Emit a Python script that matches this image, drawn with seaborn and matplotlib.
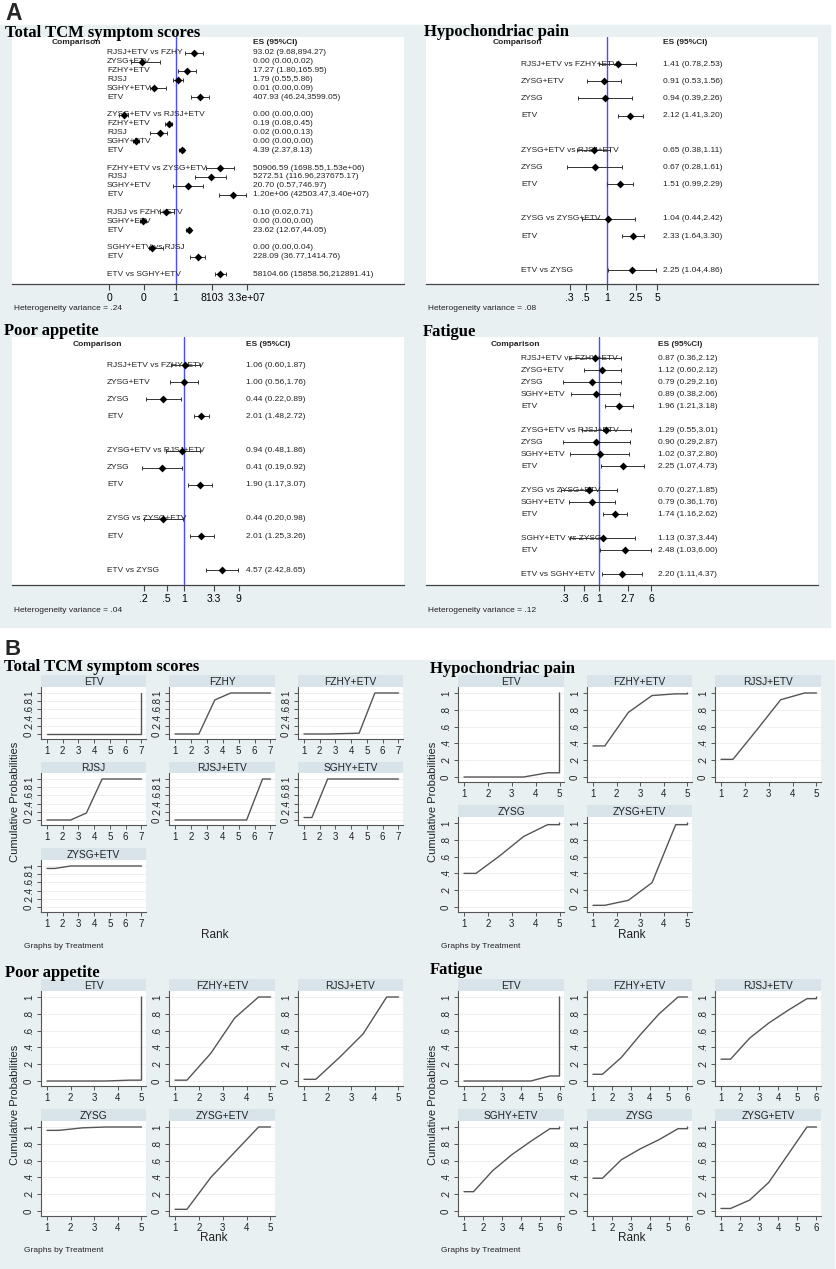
import numpy as np
import pandas as pd
import matplotlib
matplotlib.use('Agg')
import matplotlib.pyplot as plt
import seaborn as sns
from matplotlib.patches import Rectangle
from matplotlib.transforms import blended_transform_factory
from matplotlib.ticker import NullLocator

sns.set_theme(style='white')
plt.rcParams['font.family'] = ['Liberation Sans', 'DejaVu Sans']

# ---------------- data: A, forest plots ----------------
tcm_groups = [6, 5, 4, 3, 2, 1]
tcm_labels = ["RJSJ+ETV vs FZHY", "ZYSG+ETV", "FZHY+ETV", "RJSJ", "SGHY+ETV", "ETV",
              "ZYSG+ETV vs RJSJ+ETV", "FZHY+ETV", "RJSJ", "SGHY+ETV", "ETV",
              "FZHY+ETV vs ZYSG+ETV", "RJSJ", "SGHY+ETV", "ETV",
              "RJSJ vs FZHY+ETV", "SGHY+ETV", "ETV",
              "SGHY+ETV vs RJSJ", "ETV",
              "ETV vs SGHY+ETV"]
tcm_text = ["93.02 (9.68,894.27)", "0.00 (0.00,0.02)", "17.27 (1.80,165.95)", "1.79 (0.55,5.86)",
            "0.01 (0.00,0.09)", "407.93 (46.24,3599.05)",
            "0.00 (0.00,0.00)", "0.19 (0.08,0.45)", "0.02 (0.00,0.13)", "0.00 (0.00,0.00)", "4.39 (2.37,8.13)",
            "50906.59 (1698.55,1.53e+06)", "5272.51 (116.96,237675.17)", "20.70 (0.57,746.97)",
            "1.20e+06 (42503.47,3.40e+07)",
            "0.10 (0.02,0.71)", "0.00 (0.00,0.00)", "23.62 (12.67,44.05)",
            "0.00 (0.00,0.04)", "228.09 (36.77,1414.76)",
            "58104.66 (15858.56,212891.41)"]
tcm_es = [93.02, 2.5e-4, 17.27, 1.79, 5.5e-3, 407.93,
          2.8e-6, 0.19, 0.02, 5.5e-5, 4.39,
          50906.59, 5272.51, 20.70, 1.20e6,
          0.10, 3.3e-4, 23.62,
          3.3e-3, 228.09,
          58104.66]
tcm_lo = [9.68, 1.7e-5, 1.80, 0.55, 1.7e-3, 46.24,
          1.0e-6, 0.08, 2.0e-3, 2.5e-5, 2.37,
          1698.55, 116.96, 0.57, 42503.47,
          0.02, 1.7e-4, 12.67,
          1.4e-3, 36.77,
          15858.56]
tcm_hi = [894.27, 0.02, 165.95, 5.86, 0.09, 3599.05,
          7.5e-6, 0.45, 0.13, 1.2e-4, 8.13,
          1.53e6, 237675.17, 746.97, 3.40e7,
          0.71, 7.5e-4, 44.05,
          0.04, 1414.76,
          212891.41]

hyp_groups = [4, 3, 2, 1]
hyp_labels = ["RJSJ+ETV vs FZHY+ETV", "ZYSG+ETV", "ZYSG", "ETV",
              "ZYSG+ETV vs RJSJ+ETV", "ZYSG", "ETV",
              "ZYSG vs ZYSG+ETV", "ETV",
              "ETV vs ZYSG"]
hyp_text = ["1.41 (0.78,2.53)", "0.91 (0.53,1.56)", "0.94 (0.39,2.26)", "2.12 (1.41,3.20)",
            "0.65 (0.38,1.11)", "0.67 (0.28,1.61)", "1.51 (0.99,2.29)",
            "1.04 (0.44,2.42)", "2.33 (1.64,3.30)",
            "2.25 (1.04,4.86)"]
hyp_es = [1.41, 0.91, 0.94, 2.12, 0.65, 0.67, 1.51, 1.04, 2.33, 2.25]
hyp_lo = [0.78, 0.53, 0.39, 1.41, 0.38, 0.28, 0.99, 0.44, 1.64, 1.04]
hyp_hi = [2.53, 1.56, 2.26, 3.20, 1.11, 1.61, 2.29, 2.42, 3.30, 4.86]

app_groups = [4, 3, 2, 1]
app_labels = ["RJSJ+ETV vs FZHY+ETV", "ZYSG+ETV", "ZYSG", "ETV",
              "ZYSG+ETV vs RJSJ+ETV", "ZYSG", "ETV",
              "ZYSG vs ZYSG+ETV", "ETV",
              "ETV vs ZYSG"]
app_text = ["1.06 (0.60,1.87)", "1.00 (0.56,1.76)", "0.44 (0.22,0.89)", "2.01 (1.48,2.72)",
            "0.94 (0.48,1.86)", "0.41 (0.19,0.92)", "1.90 (1.17,3.07)",
            "0.44 (0.20,0.98)", "2.01 (1.25,3.26)",
            "4.57 (2.42,8.65)"]
app_es = [1.06, 1.00, 0.44, 2.01, 0.94, 0.41, 1.90, 0.44, 2.01, 4.57]
app_lo = [0.60, 0.56, 0.22, 1.48, 0.48, 0.19, 1.17, 0.20, 1.25, 2.42]
app_hi = [1.87, 1.76, 0.89, 2.72, 1.86, 0.92, 3.07, 0.98, 3.26, 8.65]

fat_groups = [5, 4, 3, 2, 1]
fat_labels = ["RJSJ+ETV vs FZHY+ETV", "ZYSG+ETV", "ZYSG", "SGHY+ETV", "ETV",
              "ZYSG+ETV vs RJSJ+ETV", "ZYSG", "SGHY+ETV", "ETV",
              "ZYSG vs ZYSG+ETV", "SGHY+ETV", "ETV",
              "SGHY+ETV vs ZYSG", "ETV",
              "ETV vs SGHY+ETV"]
fat_text = ["0.87 (0.36,2.12)", "1.12 (0.60,2.12)", "0.79 (0.29,2.16)", "0.89 (0.38,2.06)", "1.96 (1.21,3.18)",
            "1.29 (0.55,3.01)", "0.90 (0.29,2.87)", "1.02 (0.37,2.80)", "2.25 (1.07,4.73)",
            "0.70 (0.27,1.85)", "0.79 (0.36,1.76)", "1.74 (1.16,2.62)",
            "1.13 (0.37,3.44)", "2.48 (1.03,6.00)",
            "2.20 (1.11,4.37)"]
fat_es = [0.87, 1.12, 0.79, 0.89, 1.96, 1.29, 0.90, 1.02, 2.25, 0.70, 0.79, 1.74, 1.13, 2.48, 2.20]
fat_lo = [0.36, 0.60, 0.29, 0.38, 1.21, 0.55, 0.29, 0.37, 1.07, 0.27, 0.36, 1.16, 0.37, 1.03, 1.11]
fat_hi = [2.12, 2.12, 2.16, 2.06, 3.18, 3.01, 2.87, 2.80, 4.73, 1.85, 1.76, 2.62, 3.44, 6.00, 4.37]

# ---------------- data: B, cumulative rank probabilities ----------------
tcm_trt = ["ETV", "FZHY", "FZHY+ETV", "RJSJ", "RJSJ+ETV", "SGHY+ETV", "ZYSG+ETV"]
tcm_cum = [[0, 0, 0, 0, 0, 0, 1],
           [0, 0, 0.83, 1, 1, 1, 1],
           [0, 0, 0.01, 0.02, 1, 1, 1],
           [0, 0, 0.17, 1, 1, 1, 1],
           [0, 0, 0, 0, 0, 1, 1],
           [0.06, 1, 1, 1, 1, 1, 1],
           [0.94, 1, 1, 1, 1, 1, 1]]

hyp_trt = ["ETV", "FZHY+ETV", "RJSJ+ETV", "ZYSG", "ZYSG+ETV"]
hyp_cum = [[0, 0, 0, 0.05, 1],
           [0.37, 0.77, 0.97, 0.99, 1],
           [0.21, 0.56, 0.92, 1, 1],
           [0.40, 0.61, 0.84, 0.98, 1],
           [0.02, 0.08, 0.29, 0.98, 1]]

app_trt = ["ETV", "FZHY+ETV", "RJSJ+ETV", "ZYSG", "ZYSG+ETV"]
app_cum = [[0, 0, 0, 0.01, 1],
           [0.01, 0.33, 0.75, 1, 1],
           [0.02, 0.28, 0.56, 1, 1],
           [0.96, 0.99, 1, 1, 1],
           [0.02, 0.40, 0.70, 1, 1]]

fat_trt = ["ETV", "FZHY+ETV", "RJSJ+ETV", "SGHY+ETV", "ZYSG", "ZYSG+ETV"]
fat_cum = [[0, 0, 0, 0, 0.06, 1],
           [0.08, 0.28, 0.55, 0.80, 1, 1],
           [0.26, 0.51, 0.69, 0.84, 0.98, 1],
           [0.23, 0.48, 0.67, 0.83, 0.98, 1],
           [0.39, 0.61, 0.74, 0.85, 0.98, 1],
           [0.03, 0.13, 0.34, 0.67, 1, 1]]

# ---------------- figure ----------------
W, H = 837, 1269
fig = plt.figure(figsize=(W / 100, H / 100), dpi=100)
fig.patch.set_facecolor('white')

BG = '#e9f0f2'
STRIP = '#d8e3ea'
TXT = '#222222'


def ax_px(x0, y0, x1, y1, **kw):
    return fig.add_axes([x0 / W, 1 - y1 / H, (x1 - x0) / W, (y1 - y0) / H], **kw)


def ftext(x, y, s, **kw):
    fig.text(x / W, 1 - y / H, s, **kw)


def title(x, y, s):
    ftext(x, y, s, fontsize=12, fontweight='bold', va='baseline',
          family=['Liberation Serif', 'DejaVu Serif'], color='black')


# background regions (behind the axes)
fig.patches.append(Rectangle((0, 1 - 627 / H), 830 / W, (627 - 25) / H,
                             transform=fig.transFigure, color=BG, zorder=-5))
fig.patches.append(Rectangle((0, 0), 834 / W, (1269 - 660) / H,
                             transform=fig.transFigure, color=BG, zorder=-5))

ftext(5, 20, 'A', fontsize=16.5, fontweight='bold', va='baseline')
ftext(5, 655, 'B', fontsize=16, fontweight='bold', va='baseline')


def forest(box, labels, texts, es, lo, hi, groups, row0, dy, ln_lim, ticks, tick_lab,
           lab_x, es_x, comp_x, head_y, het, het_xy):
    x0, y0, x1, y1 = box
    ax = ax_px(x0, y0, x1, y1)
    ax.set_facecolor('white')
    rows = []
    r = 0
    for g in groups:
        rows += list(range(r, r + g))
        r += g + 1
    df = pd.DataFrame({'row': rows, 'es': es, 'lo': lo, 'hi': hi})
    ax.set_xscale('log')
    ax.axvline(1, color='#4b4bff', lw=1.0, zorder=1)
    ax.errorbar(df['es'], df['row'], xerr=[df['es'] - df['lo'], df['hi'] - df['es']],
                fmt='none', ecolor='#333333', elinewidth=0.7, capsize=1.3, capthick=0.7, zorder=3)
    sns.scatterplot(data=df, x='es', y='row', marker='D', color='black', s=16,
                    linewidth=0, ax=ax, zorder=4, legend=False)
    ax.set_xlim(np.exp(ln_lim[0]), np.exp(ln_lim[1]))
    ax.set_ylim((y1 - row0) / dy, (y0 - row0) / dy)
    for s in ['top', 'left', 'right']:
        ax.spines[s].set_visible(False)
    ax.spines['bottom'].set_color('#444444')
    ax.spines['bottom'].set_linewidth(0.9)
    ax.set_xticks(ticks)
    ax.set_xticklabels(tick_lab)
    ax.xaxis.set_minor_locator(NullLocator())
    ax.tick_params(axis='x', length=4, width=0.8, color='#444444', direction='out',
                   labelsize=7.5, pad=2.5, labelcolor='black', bottom=True)
    ax.set_yticks([])
    ax.set_xlabel('')
    ax.set_ylabel('')
    tr = blended_transform_factory(fig.transFigure, ax.transData)
    for rr, lab, t in zip(rows, labels, texts):
        ax.text(lab_x / W, rr, lab, transform=tr, va='center', ha='left', fontsize=6.0,
                color=TXT, zorder=2)
        ax.text(es_x / W, rr, t, transform=tr, va='center', ha='left', fontsize=6.0,
                color=TXT, zorder=2)
    hr = (head_y - row0) / dy
    ax.text(comp_x / W, hr, 'Comparison', transform=tr, va='center', ha='left',
            fontsize=6.0, fontweight='bold', color=TXT)
    ax.text(es_x / W, hr, 'ES (95%CI)', transform=tr, va='center', ha='left',
            fontsize=6.0, fontweight='bold', color=TXT)
    ftext(het_xy[0], het_xy[1], 'Heterogeneity variance = ' + het, fontsize=6,
          va='center', ha='left', color=TXT)


forest((12, 37, 404, 284), tcm_labels, tcm_text, tcm_es, tcm_lo, tcm_hi, tcm_groups,
       53, 8.85, (-40.2, 56.1), [8.3e-8, 4.1e-4, 1, 8103, 3.9e7],
       ['0', '0', '1', '8103', '3.3e+07'], 107, 253, 52, 43, '.24', (14, 309))
title(5, 37, 'Total TCM symptom scores')

forest((426, 37, 818, 284), hyp_labels, hyp_text, hyp_es, hyp_lo, hyp_hi, hyp_groups,
       64, 17.2, (-5.82, 6.78), [0.3, 0.5, 1, 2.5, 5], ['.3', '.5', '1', '2.5', '5'],
       521, 663, 493, 43, '.08', (428, 309))
title(424, 36, 'Hypochondriac pain')

forest((12, 337, 404, 585), app_labels, app_text, app_es, app_lo, app_hi, app_groups,
       365, 17.1, (-6.88, 8.8), [0.2, 0.5, 1, 3.3, 9], ['.2', '.5', '1', '3.3', '9'],
       107, 246, 73, 344, '.04', (14, 611))
title(4, 335, 'Poor appetite')

forest((426, 337, 818, 585), fat_labels, fat_text, fat_es, fat_lo, fat_hi, fat_groups,
       358, 12.0, (-5.97, 7.55), [0.3, 0.6, 1, 2.7, 6], ['.3', '.6', '1', '2.7', '6'],
       521, 658, 491, 344, '.12', (428, 611))
title(423, 336, 'Fatigue')


# ---------------- B: rankograms ----------------
def rank_panel(trts, cums, cols, rows, ylab_xy, rank_xy, gbt_xy):
    n = len(cums[0])
    for i, (name, cum) in enumerate(zip(trts, cums)):
        cx0, cx1 = cols[i % 3]
        sy0, py0, py1 = rows[i // 3]
        st = ax_px(cx0, sy0, cx1, py0)
        st.set_facecolor(STRIP)
        st.set_xticks([])
        st.set_yticks([])
        for s in st.spines.values():
            s.set_visible(False)
        st.text(0.5, 0.45, name, ha='center', va='center', fontsize=7.3, color=TXT,
                transform=st.transAxes)

        ax = ax_px(cx0, py0, cx1, py1)
        ax.set_facecolor('white')
        xs = [1, 1.5] + [k + 1.5 for k in range(1, n - 1)] + [n, n]
        ys = [cum[0], cum[0]] + list(cum[1:n - 1]) + [cum[n - 2], cum[n - 1]]
        d = pd.DataFrame({'rank': xs, 'p': ys})
        sns.lineplot(data=d, x='rank', y='p', sort=False, estimator=None, color='#555555',
                     lw=1.0, ax=ax)
        sx = (cx1 - cx0 - 10.5) / (n - 1)
        sy = (py1 - py0 - 11)
        ax.set_xlim(1 - 6 / sx, n + 4.5 / sx)
        ax.set_ylim(-5 / sy, 1 + 6 / sy)
        ax.set_xticks(range(1, n + 1))
        ax.set_yticks([0, 0.2, 0.4, 0.6, 0.8, 1])
        ax.set_yticklabels(['0', '.2', '.4', '.6', '.8', '1'], rotation=90, va='center')
        ax.grid(axis='y', color='#eeeeee', lw=0.6)
        ax.grid(axis='x', visible=False)
        for s in ['top', 'right']:
            ax.spines[s].set_visible(False)
        for s in ['left', 'bottom']:
            ax.spines[s].set_color('#555555')
            ax.spines[s].set_linewidth(0.8)
        ax.tick_params(length=3, width=0.7, color='#555555', direction='out', labelsize=7,
                       pad=2, labelcolor=TXT, left=True, bottom=True)
        ax.set_xlabel('')
        ax.set_ylabel('')
    ftext(ylab_xy[0], ylab_xy[1], 'Cumulative Probabilities', rotation=90, fontsize=8,
          ha='center', va='center', color=TXT)
    ftext(rank_xy[0], rank_xy[1], 'Rank', fontsize=8.5, ha='center', va='center', color=TXT)
    ftext(gbt_xy[0], gbt_xy[1], 'Graphs by Treatment', fontsize=6, ha='left', va='center',
          color=TXT)


cols_left = [(41, 146), (169, 275), (298, 403)]
cols_right = [(458, 564), (587, 692), (715, 821)]

rank_panel(tcm_trt, tcm_cum, cols_left,
           [(675, 687, 739), (762, 773, 825), (848, 860, 912)],
           (15, 802), (215, 935), (24, 947))
title(4, 671, 'Total TCM symptom scores')

rank_panel(hyp_trt, hyp_cum, cols_right,
           [(675, 687, 782), (805, 817, 912)],
           (433, 802), (632, 935), (441, 947))
title(430, 673, 'Hypochondriac pain')

rank_panel(app_trt, app_cum, cols_left,
           [(979, 991, 1086), (1109, 1121, 1216)],
           (15, 1105), (214, 1238), (24, 1251))
title(5, 977, 'Poor appetite')

rank_panel(fat_trt, fat_cum, cols_right,
           [(979, 991, 1086), (1109, 1121, 1216)],
           (433, 1105), (632, 1238), (441, 1251))
title(430, 974, 'Fatigue')

fig.savefig('out.png', dpi=100, facecolor='white')
